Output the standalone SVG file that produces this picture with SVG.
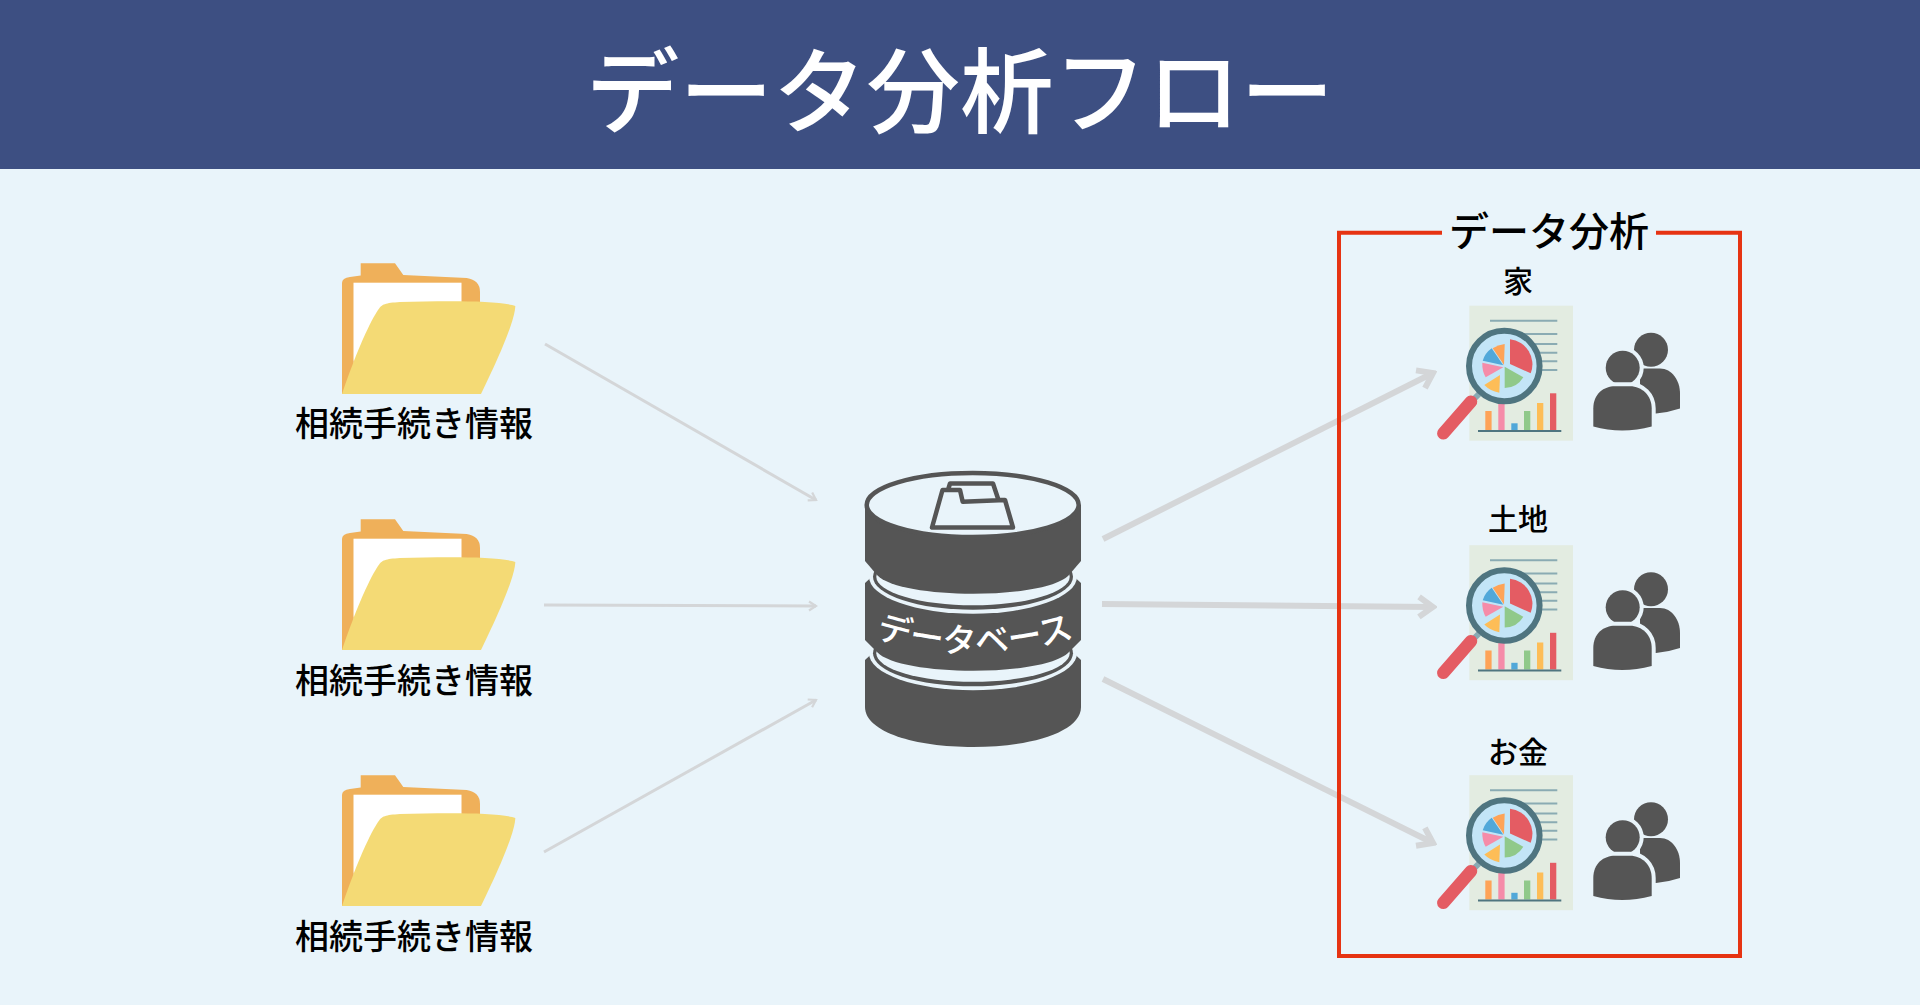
<svg xmlns="http://www.w3.org/2000/svg" xmlns:xlink="http://www.w3.org/1999/xlink" width="1920" height="1005" viewBox="0 0 1920 1005">
<style>
text{font-family:"Noto Sans CJK JP","Noto Sans",sans-serif;text-anchor:middle;fill:#000;font-weight:500}
.title{font-size:93.500px;fill:#fff}
.src{font-size:34px}
.grp{font-size:40px}
.lab{font-size:30px}
.thin{stroke:#d4d6d8;stroke-width:3;fill:none;marker-end:url(#ah)}
.thick{stroke:#d4d6d8;stroke-width:6;fill:none;marker-end:url(#ah2)}
.d{fill:#555}
.l{fill:#e9f4fa}
</style>
<defs>
<marker id="ah" viewBox="0 0 12 12" refX="10" refY="6" markerWidth="12" markerHeight="12" markerUnits="userSpaceOnUse" orient="auto"><path d="M3 1.500L10 6L3 10.500" fill="none" stroke="#d4d6d8" stroke-width="2.200"/></marker>
<marker id="ah2" viewBox="0 0 26 26" refX="22" refY="13" markerWidth="26" markerHeight="26" markerUnits="userSpaceOnUse" orient="auto"><path d="M8 3L22 13L8 23" fill="none" stroke="#d4d6d8" stroke-width="6"/></marker>
<g id="folder">
<path d="M360.700 263.300H395L403.300 275L466.700 278Q480 280 480 292V320H342V283Q342 278 350 277L360.700 275.500Z" fill="#efb05a"/>
<path d="M342 283H355V394H342Z" fill="#efb05a"/>
<rect x="353.500" y="282.700" width="108" height="100" fill="#fff"/>
<path d="M342 394L353.500 360V394Z" fill="#efb05a"/>
<path d="M342 394H481C500 355 515 320 515.300 306C500 300 440 301 400 302C385 303 382 304 378 310C365 330 350 370 342 394Z" fill="#f4da75"/>
</g>
<g id="analysis">
<rect x="1469.300" y="305.700" width="103.700" height="135" fill="#e3ece1"/>
<path d="M1490 320.700H1557.300M1490 334H1557.300M1490 344H1557.300M1490 352.700H1557.300M1490 361.300H1557.300M1490 370H1557.300" stroke="#8aabb3" stroke-width="2"/>
<rect x="1485.300" y="411" width="6.300" height="19" fill="#fea357"/>
<rect x="1498.300" y="403" width="6.300" height="27" fill="#f58ca9"/>
<rect x="1511.300" y="423.300" width="6.300" height="6.700" fill="#51a8d9"/>
<rect x="1524" y="411" width="6.300" height="19" fill="#90c98a"/>
<rect x="1537" y="403" width="6.300" height="27" fill="#fdbd57"/>
<rect x="1550" y="393.300" width="6.300" height="36.700" fill="#e45c63"/>
<path d="M1478 431H1561.300" stroke="#4f7580" stroke-width="2"/>
<path d="M1479 394L1470 403" stroke="#8aabb3" stroke-width="6"/>
<path d="M1471 401.700L1443.300 433.300" stroke="#e45c63" stroke-width="12.500" stroke-linecap="round"/>
<circle cx="1504.300" cy="366" r="35.300" fill="#c3e5f7" stroke="#4f7580" stroke-width="6"/>
<path d="M1510 339.300A25 25 0 0 1 1530.700 373.300L1510 364Z" fill="#e45c63"/>
<path d="M1504.700 344Q1498 345 1492.700 348.300L1504 365Z" fill="#fea357"/>
<path d="M1491.700 348.300Q1485 353 1482.700 360.700L1503.300 365.300Z" fill="#51a8d9"/>
<path d="M1482.300 362.700Q1482 371 1485.700 377.300L1503.300 367.300Z" fill="#f58ca9"/>
<path d="M1484.300 385Q1490 391 1499.300 392.700L1500 375Z" fill="#fdbd57"/>
<path d="M1504.700 366.700V388Q1517 388 1523.300 377.300Z" fill="#90c98a"/>
<g transform="translate(0 0.500)">
<circle cx="1651" cy="349.300" r="17" class="d"/>
<path d="M1640 368H1660C1672 368 1680 380 1680 393V408Q1668 412 1656 413H1640Z" class="d"/>
<circle cx="1622.700" cy="367.300" r="17" class="d" stroke="#e9f4fa" stroke-width="8" paint-order="stroke"/>
<path d="M1593.300 426V408C1593.300 393 1604 385.700 1615 385.700H1630C1642 385.700 1651.700 395 1651.700 408V426Q1622 434 1593.300 426Z" class="d" stroke="#e9f4fa" stroke-width="8" paint-order="stroke"/>
</g>
</g>
<path id="dbarc" d="M866 634Q973 672 1084 634"/>
</defs>
<rect width="1920" height="1005" fill="#e9f4fa"/>
<g id="header">
<rect width="1920" height="169" fill="#3d4f82"/>
<text class="title" x="960" y="126">データ分析フロー</text>
</g>
<g id="connectors">
<path class="thin" d="M545 344L816 500"/>
<path class="thin" d="M544 605L816 606"/>
<path class="thin" d="M544 852L816 700"/>
<path class="thick" d="M1103 539L1433 373"/>
<path class="thick" d="M1102 604L1433 607"/>
<path class="thick" d="M1103 679L1433 843"/>
</g>
<g id="source1"><use href="#folder"/><text class="src" x="414" y="436">相続手続き情報</text></g>
<g id="source2"><use href="#folder" y="256"/><text class="src" x="414" y="693">相続手続き情報</text></g>
<g id="source3"><use href="#folder" y="512"/><text class="src" x="414" y="949">相続手続き情報</text></g>
<g id="database">
<path class="d" d="M878 648L865 660V707C865 732 915 747 973 747S1081 732 1081 707V660L1068 648Z"/>
<ellipse class="l" cx="973" cy="653.300" rx="104" ry="37"/>
<ellipse class="d" cx="973" cy="653.300" rx="100" ry="33"/>
<ellipse class="l" cx="973" cy="653.300" rx="96.700" ry="28.500"/>
<path class="d" d="M878 571L865 583V640L877 652C900 677 1046 677 1069 652L1081 640V583L1068 571Z"/>
<ellipse class="l" cx="973" cy="576.700" rx="104" ry="37"/>
<ellipse class="d" cx="973" cy="576.700" rx="100" ry="33"/>
<ellipse class="l" cx="973" cy="576.700" rx="96.700" ry="28.500"/>
<path class="d" d="M865 505V561L877 575C900 600 1046 600 1069 575L1081 561V505Z"/>
<ellipse class="l" cx="972.700" cy="505" rx="106" ry="32" stroke="#555" stroke-width="4.500"/>
<path d="M932 527.500H1013L1005 500H998.500L993 483.500H950L948 490H942.500ZM948 490H960L962.700 501.700L1005 500" fill="none" stroke="#555" stroke-width="4.500" stroke-linejoin="round"/>
<text font-size="34" style="fill:#fff"><textPath href="#dbarc" startOffset="50%">データベース</textPath></text>
</g>
<g id="group-frame">
<path d="M1442 232.700H1339V956H1740V232.700H1656" fill="none" stroke="#e63312" stroke-width="4"/>
<text class="grp" x="1549" y="246">データ分析</text>
</g>
<g id="analysis1"><text class="lab" x="1518" y="292">家</text><use href="#analysis"/></g>
<g id="analysis2"><text class="lab" x="1518" y="530">土地</text><use href="#analysis" y="239.500"/></g>
<g id="analysis3"><text class="lab" x="1518" y="763">お金</text><use href="#analysis" y="469.500"/></g>
</svg>
